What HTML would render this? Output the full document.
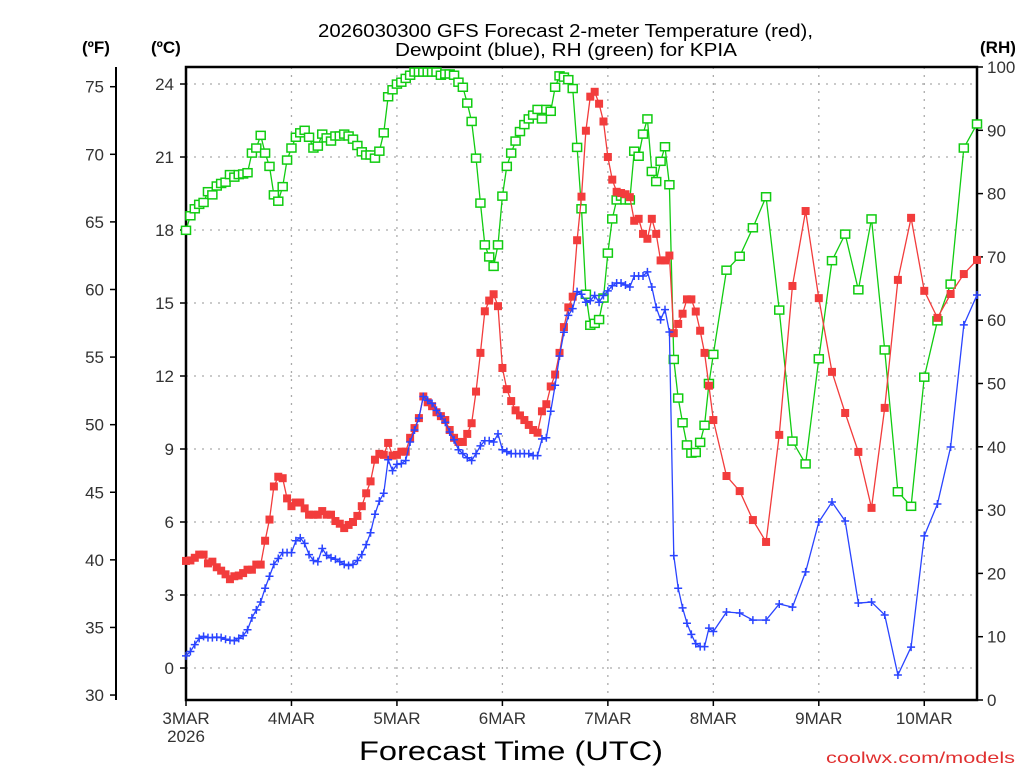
<!DOCTYPE html>
<html><head><meta charset="utf-8"><style>
html,body{margin:0;padding:0;background:#fff;}
svg{display:block;}
text{font-family:"Liberation Sans",sans-serif;}
</style></head><body>
<svg id="chart" width="1024" height="768" viewBox="0 0 1024 768" xmlns="http://www.w3.org/2000/svg">
<text x="318" y="37" textLength="495" lengthAdjust="spacingAndGlyphs" font-size="18" fill="#000">2026030300 GFS Forecast 2-meter Temperature (red),</text>
<text x="395" y="56" textLength="342" lengthAdjust="spacingAndGlyphs" font-size="18" fill="#000">Dewpoint (blue), RH (green) for KPIA</text>
<text x="82" y="53" font-size="17" font-weight="bold" fill="#000">(ºF)</text>
<text x="151" y="53" font-size="17" font-weight="bold" fill="#000">(ºC)</text>
<text x="980" y="53" font-size="17" font-weight="bold" fill="#000">(RH)</text>
<text x="511" y="760" text-anchor="middle" font-size="27" textLength="304" lengthAdjust="spacingAndGlyphs" fill="#000">Forecast Time (UTC)</text>
<text x="826" y="763" font-size="16" textLength="189" lengthAdjust="spacingAndGlyphs" fill="#e03030">coolwx.com/models</text>
<g id="grid"></g><g id="axes"></g><g id="series"></g>
</svg>
<script>
const hours=[];for(let h=0;h<=120;h++)hours.push(h);for(let h=123;h<=180;h+=3)hours.push(h);
const tempC=[4.4,4.42,4.53,4.66,4.66,4.3,4.37,4.14,4.0,3.85,3.65,3.77,3.8,3.9,4.04,4.04,4.25,4.25,5.23,6.1,7.46,7.86,7.8,6.97,6.65,6.8,6.8,6.56,6.3,6.3,6.3,6.45,6.3,6.3,6.04,5.93,5.75,5.88,6.0,6.25,6.65,7.18,7.67,8.56,8.8,8.76,9.25,8.73,8.76,
8.89,8.89,9.46,9.86,10.27,11.16,10.92,10.76,10.51,10.35,10.19,9.78,9.46,9.29,9.29,9.62,10.06,11.36,12.95,14.66,15.1,15.36,14.87,12.33,11.46,10.97,10.59,10.38,10.19,9.99,9.78,9.67,10.55,10.84,11.57,12.06,12.95,14.01,14.82,15.26,17.58,19.37,22.08,23.48,23.68,23.19,22.46,21.0,
20.07,19.57,19.52,19.47,19.35,18.38,18.46,17.84,17.64,18.46,17.84,16.75,16.75,16.95,13.76,14.14,14.56,15.15,15.15,14.65,13.86,12.95,11.6,10.19,
7.89,7.27,6.08,5.18,9.58,15.7,18.78,15.2,12.17,10.48,8.88,6.58,10.69,15.95,18.5,15.5,14.39,15.37,16.19,16.77];
const dewC=[0.5,0.68,0.96,1.22,1.3,1.25,1.25,1.27,1.25,1.18,1.14,1.12,1.22,1.33,1.57,2.06,2.39,2.71,3.28,3.77,4.26,4.5,4.74,4.74,4.74,5.23,5.35,5.12,4.66,4.42,4.37,4.91,4.63,4.53,4.47,4.37,4.26,4.21,4.26,4.42,4.66,5.07,5.56,6.32,6.86,7.18,8.56,8.11,8.37,
8.4,8.53,9.29,9.78,10.27,11.16,11.0,10.87,10.59,10.35,10.1,9.7,9.38,8.97,8.81,8.64,8.53,8.81,9.13,9.34,9.34,9.29,9.62,8.97,8.89,8.81,8.81,8.81,8.81,8.81,8.73,8.73,9.41,9.46,10.55,11.62,12.82,13.8,14.49,14.77,15.47,15.36,15.03,15.1,15.31,15.03,15.31,15.5,
15.71,15.82,15.82,15.74,15.66,16.11,16.11,16.11,16.28,15.66,14.82,14.31,14.73,13.81,4.62,3.28,2.47,1.84,1.38,1.0,0.88,0.88,1.64,1.5,
2.3,2.26,1.97,1.97,2.63,2.5,3.95,6.0,6.82,6.04,2.67,2.71,2.18,-0.29,0.86,5.43,6.74,9.08,14.1,15.33];
const rh=[74.2,76.5,77.6,78.3,78.6,80.3,79.8,81.2,81.6,81.8,83.0,82.6,83.0,83.1,83.3,86.4,87.2,89.2,86.4,84.3,79.8,78.8,81.1,85.3,87.2,88.9,89.6,90.0,88.9,87.2,87.5,89.4,88.8,88.3,89.1,89.1,89.4,89.1,88.6,87.6,86.6,86.1,86.1,85.6,86.7,89.6,95.3,96.4,97.3,
97.6,98.2,98.7,99.2,99.2,99.2,99.2,99.2,99.2,98.7,98.9,98.9,98.7,97.6,96.8,94.3,91.4,85.6,78.5,71.9,70.0,68.5,71.9,79.6,84.3,86.4,88.3,89.8,90.9,91.8,92.4,93.3,91.8,93.3,93.0,96.8,98.6,98.4,98.0,96.6,87.3,77.6,64.1,59.2,59.5,60.1,63.5,70.6,
76.0,79.0,79.6,79.0,79.0,86.7,85.9,89.4,91.8,83.5,81.9,85.1,87.4,81.4,53.8,47.7,43.8,40.3,39.0,39.1,40.7,43.4,50.0,54.6,
67.9,70.1,74.6,79.5,61.6,40.9,37.3,53.9,69.4,73.6,64.8,76.0,55.3,32.9,30.6,51.0,59.9,65.7,87.2,91.0];
const cTicks=[0,3,6,9,12,15,18,21,24];
const fTicks=[30,35,40,45,50,55,60,65,70,75];
const rhTicks=[0,10,20,30,40,50,60,70,80,90,100];
const dayLabels=["3MAR","4MAR","5MAR","6MAR","7MAR","8MAR","9MAR","10MAR"];

const NS="http://www.w3.org/2000/svg";
const L=186,R=977,T=67,B=700;
const xOf=h=>L+h*(R-L)/180;
const yC=c=>668-c*24.333;
const yF=f=>yC((f-32)/1.8);
const yRH=r=>B-r*(B-T)/100;
function mk(tag,attrs,parent){const e=document.createElementNS(NS,tag);for(const k in attrs)e.setAttribute(k,attrs[k]);parent.appendChild(e);return e;}
const grid=document.getElementById('grid'),axes=document.getElementById('axes'),ser=document.getElementById('series');

cTicks.forEach(c=>{const y=yC(c);
 const g=mk('line',{x1:L,x2:R,y1:y,y2:y,stroke:'#aaa','stroke-width':1.3,'stroke-dasharray':'2,6'},grid);
 
 
 mk('line',{x1:L-6,x2:L,y1:y,y2:y,stroke:'#000','stroke-width':1.5},axes);
 const t=mk('text',{x:L-12,y:y+6,'text-anchor':'end','font-size':17,fill:'#333'},axes);t.textContent=c;
 
 
});
fTicks.forEach(f=>{const y=yF(f);
 mk('line',{x1:110,x2:116,y1:y,y2:y,stroke:'#000','stroke-width':1.5},axes);
 const t=mk('text',{x:104,y:y+6,'text-anchor':'end','font-size':17,fill:'#333'},axes);t.textContent=f;
 
 
});
rhTicks.forEach(r=>{const y=yRH(r);
 mk('line',{x1:R,x2:R+6,y1:y,y2:y,stroke:'#000','stroke-width':1.5},axes);
 const t=mk('text',{x:R+10,y:y+6,'font-size':17,fill:'#333'},axes);t.textContent=r;
 
 
});
dayLabels.forEach((d,i)=>{const x=xOf(i*24);
 if(i>0){const g=mk('line',{x1:x,x2:x,y1:T,y2:B,stroke:'#aaa','stroke-width':1.3,'stroke-dasharray':'2,6'},grid);
  
  }
 mk('line',{x1:x,x2:x,y1:B,y2:B+6,stroke:'#000','stroke-width':1.5},axes);
 const t=mk('text',{x:x,y:724,'text-anchor':'middle','font-size':17,fill:'#333'},axes);t.textContent=d;
 
 
});
const yr=mk('text',{x:xOf(0),y:742,'text-anchor':'middle','font-size':17,fill:'#333'},axes);yr.textContent='2026';


const fr=mk('rect',{x:L,y:T,width:R-L,height:B-T,fill:'none',stroke:'#000','stroke-width':2.5},axes);


const fa=mk('line',{x1:116,x2:116,y1:T,y2:B,stroke:'#000','stroke-width':2},axes);



function series(vals,yf,color,name,marker){
 const pts=vals.map((v,i)=>[xOf(hours[i]),yf(v)]);
 const pl=mk('polyline',{points:pts.map(p=>p.join(',')).join(' '),fill:'none',stroke:color,'stroke-width':1.3},ser);
 
 
 pts.forEach(p=>{let m;
  if(marker==='fill'){m=mk('rect',{x:p[0]-4,y:p[1]-4,width:8,height:8,fill:color},ser);}
  else if(marker==='open'){m=mk('rect',{x:p[0]-4.5,y:p[1]-4,width:9,height:8,fill:'#fff',stroke:color,'stroke-width':1.5},ser);}
  else{m=mk('path',{d:`M${p[0]-4},${p[1]}H${p[0]+4}M${p[0]},${p[1]-4}V${p[1]+4}`,stroke:color,'stroke-width':1.5},ser);}
  
  
 });
}
series(rh,yRH,'#11cc11','rh','open');
series(tempC,yC,'#f23c3c','temperature','fill');
series(dewC,yC,'#2a44ff','dewpoint','plus');
</script>
</body></html>
